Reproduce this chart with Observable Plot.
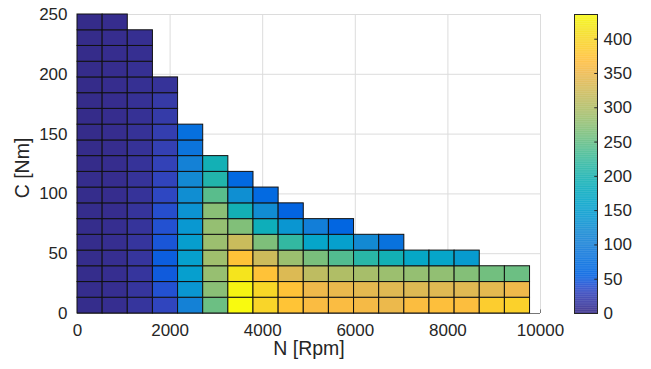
<!DOCTYPE html>
<html>
<head>
<meta charset="utf-8">
<script src="https://cdn.jsdelivr.net/npm/d3@7"></script>
<script src="https://cdn.jsdelivr.net/npm/@observablehq/plot@0.6"></script>
<style>
  html, body { margin: 0; padding: 0; background: #fff; }
  #wrap { position: relative; width: 651px; height: 369px; overflow: hidden; }
  #wrap svg { position: absolute; top: 0; }
</style>
</head>
<body>
<div id="wrap"></div>
<script>
// ---- data ----
const speedEdges = [0, 543, 1086, 1629, 2172, 2715, 3258, 3801, 4344, 4887, 5430, 5973, 6516, 7059, 7602, 8145, 8688, 9231, 9774];
const torqueEdges = [0, 13.2, 26.3, 39.5, 52.6, 65.8, 78.9, 92.1, 105.3, 118.4, 131.6, 144.7, 157.9, 171.1, 184.2, 197.4, 210.5, 223.7, 236.8, 250];
// value per cell, one list per speed column, bottom row first
const cellValues = [
  [3, 3, 3, 3, 3, 3, 3, 3, 3, 2, 2, 2, 2, 2, 2, 2, 2, 2, 2],
  [5, 5, 5, 5, 5, 5, 4, 4, 4, 4, 4, 4, 4, 4, 4, 4, 4, 4, 4],
  [12, 12, 12, 12, 12, 11, 11, 10, 10, 10, 9, 9, 8, 8, 7, 7, 6, 6],
  [30, 40, 48, 50, 44, 40, 38, 32, 29, 26, 24, 22, 18, 17, 10],
  [104, 135, 150, 153, 148, 138, 131, 125, 118, 103, 82, 75],
  [253, 272, 280, 287, 284, 279, 272, 242, 205, 192],
  [435, 430, 415, 373, 320, 266, 192, 126, 63],
  [397, 400, 373, 322, 264, 186, 122, 65],
  [375, 373, 335, 283, 218, 135, 57],
  [362, 351, 310, 261, 161, 98],
  [362, 347, 299, 238, 152, 59],
  [357, 342, 292, 211, 118],
  [349, 338, 284, 192, 78],
  [364, 336, 279, 166],
  [368, 338, 277, 161],
  [366, 338, 268, 144],
  [386, 342, 257],
  [392, 351, 253]
];
const xTicks = [0, 2000, 4000, 6000, 8000, 10000];
const yTicks = [0, 50, 100, 150, 200, 250];
const cbTicks = [0, 50, 100, 150, 200, 250, 300, 350, 400];
const colorMax = 436;

// ---- parula colormap (MATLAB, 64 entries) ----
const parulaRGB = [
[0.2081,0.1663,0.5292],[0.2116,0.1898,0.5777],[0.2123,0.2138,0.6270],[0.2081,0.2386,0.6771],
[0.1959,0.2645,0.7279],[0.1707,0.2919,0.7792],[0.1253,0.3242,0.8303],[0.0591,0.3598,0.8683],
[0.0117,0.3875,0.8820],[0.0060,0.4086,0.8828],[0.0165,0.4266,0.8786],[0.0329,0.4430,0.8720],
[0.0498,0.4586,0.8641],[0.0629,0.4737,0.8554],[0.0723,0.4887,0.8467],[0.0779,0.5040,0.8384],
[0.0793,0.5200,0.8312],[0.0749,0.5375,0.8263],[0.0641,0.5570,0.8240],[0.0488,0.5772,0.8228],
[0.0343,0.5966,0.8199],[0.0265,0.6137,0.8135],[0.0239,0.6287,0.8038],[0.0231,0.6418,0.7913],
[0.0228,0.6535,0.7768],[0.0267,0.6642,0.7607],[0.0384,0.6743,0.7436],[0.0590,0.6838,0.7254],
[0.0843,0.6928,0.7062],[0.1133,0.7015,0.6859],[0.1453,0.7098,0.6646],[0.1801,0.7177,0.6424],
[0.2178,0.7250,0.6193],[0.2586,0.7317,0.5954],[0.3022,0.7376,0.5712],[0.3482,0.7424,0.5473],
[0.3953,0.7459,0.5244],[0.4420,0.7481,0.5033],[0.4871,0.7491,0.4840],[0.5300,0.7491,0.4661],
[0.5709,0.7485,0.4494],[0.6099,0.7473,0.4337],[0.6473,0.7456,0.4188],[0.6834,0.7435,0.4044],
[0.7184,0.7411,0.3905],[0.7525,0.7384,0.3768],[0.7858,0.7356,0.3633],[0.8185,0.7327,0.3498],
[0.8507,0.7299,0.3360],[0.8824,0.7274,0.3217],[0.9139,0.7258,0.3063],[0.9450,0.7261,0.2886],
[0.9739,0.7314,0.2666],[0.9938,0.7455,0.2403],[0.9990,0.7653,0.2164],[0.9955,0.7861,0.1967],
[0.9880,0.8066,0.1794],[0.9789,0.8271,0.1633],[0.9697,0.8481,0.1475],[0.9626,0.8705,0.1309],
[0.9589,0.8949,0.1132],[0.9598,0.9218,0.0948],[0.9661,0.9514,0.0755],[0.9763,0.9831,0.0538]
];
const parula = d3.piecewise(d3.interpolateRgb, parulaRGB.map(([r, g, b]) => d3.rgb(r * 255, g * 255, b * 255).formatHex()));

// ---- build cells ----
const cells = [];
cellValues.forEach((col, i) => {
  col.forEach((v, j) => {
    cells.push({x1: speedEdges[i], x2: speedEdges[i + 1], y1: torqueEdges[j], y2: torqueEdges[j + 1], v});
  });
});

const font = "'Liberation Sans', Arial, Helvetica, sans-serif";
const ink = "#262626";
const colorScale = {type: "linear", domain: [0, colorMax], interpolate: parula};

const main = Plot.plot({
  width: 651,
  height: 369,
  marginLeft: 77,
  marginRight: 111,
  marginTop: 14,
  marginBottom: 56,
  style: {fontFamily: font, fontSize: "17px", color: ink, background: "transparent", overflow: "visible"},
  x: {domain: [0, 10000]},
  y: {domain: [0, 250]},
  color: colorScale,
  marks: [
    Plot.gridX(xTicks, {stroke: "#dcdcdc", strokeOpacity: 1}),
    Plot.gridY(yTicks, {stroke: "#dcdcdc", strokeOpacity: 1}),
    Plot.ruleY([0], {stroke: "#777", strokeWidth: 1.2}),
    Plot.ruleX([10000], {y1: 0, y2: 3, stroke: "#777"}),
    Plot.rect(cells, {x1: "x1", x2: "x2", y1: "y1", y2: "y2", fill: "v", stroke: "#111", strokeWidth: 1}),
    Plot.axisX(xTicks, {tickSize: 0, tickPadding: 10, fontSize: 17, label: null, tickFormat: d => String(d)}),
    Plot.axisY(yTicks, {tickSize: 0, tickPadding: 10, fontSize: 17, label: null}),
    Plot.text(["N [Rpm]"], {frameAnchor: "bottom", dy: 41, fontSize: 19.5, fill: ink}),
    Plot.text(["C [Nm]"], {frameAnchor: "left", textAnchor: "middle", dx: -55, dy: 4, rotate: -90, fontSize: 19.5, fill: ink})
  ]
});
main.style.left = "0px";

const ramp = d3.range(0, colorMax, 1);
const cbar = Plot.plot({
  width: 91,
  height: 369,
  marginLeft: 14,
  marginRight: 54,
  marginTop: 14,
  marginBottom: 56,
  style: {fontFamily: font, fontSize: "17px", color: ink, background: "transparent", overflow: "visible"},
  x: {domain: [0, 1], axis: null},
  y: {domain: [0, colorMax]},
  color: colorScale,
  marks: [
    Plot.rect(ramp, {x1: () => 0, x2: () => 1, y1: d => d, y2: d => Math.min(d + 1.2, colorMax), fill: d => d}),
    Plot.ruleY(cbTicks, {x1: () => 0.88, x2: () => 1, stroke: ink}),
    Plot.frame({stroke: ink}),
    Plot.axisY(cbTicks, {anchor: "right", tickSize: 0, tickPadding: 6, fontSize: 17, label: null})
  ]
});
cbar.style.left = "560px";

const wrap = document.getElementById("wrap");
wrap.appendChild(main);
wrap.appendChild(cbar);
</script>
</body>
</html>
